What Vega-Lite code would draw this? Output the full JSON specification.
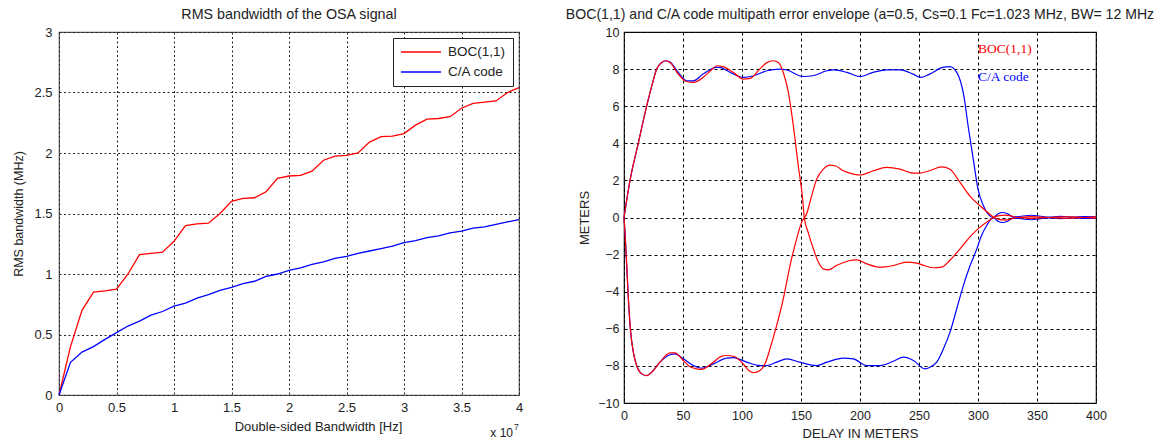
{
  "$schema": "https://vega.github.io/schema/vega-lite/v6.json",
  "background": "white",
  "padding": {"left": 12, "top": 7, "right": 0, "bottom": 0},
  "bounds": "flush",
  "spacing": 105,
  "config": {
    "font": "Liberation Sans",
    "title": {"fontWeight": "normal", "color": "#222", "anchor": "middle", "frame": "group"},
    "axis": {"ticks": false, "domain": false, "labelFlush": false, "labelOverlap": false, "titleFontWeight": "normal", "labelColor": "#222", "titleColor": "#222", "tickCount": 30}
  },
  "resolve": {"scale": {"color": "independent"}, "legend": {"color": "independent"}},
  "hconcat": [
    {
      "width": 460,
      "height": 363,
      "view": {"stroke": "#555", "strokeWidth": 1.2},
      "title": {"text": "RMS bandwidth of the OSA signal", "fontSize": 14.3, "offset": 4},
      "data": {"values": [
        {"bw": 0, "rms": 0, "signal": "BOC(1,1)"},
        {"bw": 1000000, "rms": 0.40, "signal": "BOC(1,1)"},
        {"bw": 2000000, "rms": 0.70, "signal": "BOC(1,1)"},
        {"bw": 3000000, "rms": 0.85, "signal": "BOC(1,1)"},
        {"bw": 4000000, "rms": 0.86, "signal": "BOC(1,1)"},
        {"bw": 5000000, "rms": 0.875, "signal": "BOC(1,1)"},
        {"bw": 6000000, "rms": 1.0, "signal": "BOC(1,1)"},
        {"bw": 7000000, "rms": 1.16, "signal": "BOC(1,1)"},
        {"bw": 8000000, "rms": 1.17, "signal": "BOC(1,1)"},
        {"bw": 9000000, "rms": 1.18, "signal": "BOC(1,1)"},
        {"bw": 10000000, "rms": 1.27, "signal": "BOC(1,1)"},
        {"bw": 11000000, "rms": 1.40, "signal": "BOC(1,1)"},
        {"bw": 12000000, "rms": 1.415, "signal": "BOC(1,1)"},
        {"bw": 13000000, "rms": 1.42, "signal": "BOC(1,1)"},
        {"bw": 14000000, "rms": 1.50, "signal": "BOC(1,1)"},
        {"bw": 15000000, "rms": 1.60, "signal": "BOC(1,1)"},
        {"bw": 16000000, "rms": 1.625, "signal": "BOC(1,1)"},
        {"bw": 17000000, "rms": 1.63, "signal": "BOC(1,1)"},
        {"bw": 18000000, "rms": 1.68, "signal": "BOC(1,1)"},
        {"bw": 19000000, "rms": 1.79, "signal": "BOC(1,1)"},
        {"bw": 20000000, "rms": 1.81, "signal": "BOC(1,1)"},
        {"bw": 21000000, "rms": 1.815, "signal": "BOC(1,1)"},
        {"bw": 22000000, "rms": 1.85, "signal": "BOC(1,1)"},
        {"bw": 23000000, "rms": 1.94, "signal": "BOC(1,1)"},
        {"bw": 24000000, "rms": 1.975, "signal": "BOC(1,1)"},
        {"bw": 25000000, "rms": 1.98, "signal": "BOC(1,1)"},
        {"bw": 26000000, "rms": 2.00, "signal": "BOC(1,1)"},
        {"bw": 27000000, "rms": 2.09, "signal": "BOC(1,1)"},
        {"bw": 28000000, "rms": 2.135, "signal": "BOC(1,1)"},
        {"bw": 29000000, "rms": 2.14, "signal": "BOC(1,1)"},
        {"bw": 30000000, "rms": 2.16, "signal": "BOC(1,1)"},
        {"bw": 31000000, "rms": 2.23, "signal": "BOC(1,1)"},
        {"bw": 32000000, "rms": 2.28, "signal": "BOC(1,1)"},
        {"bw": 33000000, "rms": 2.285, "signal": "BOC(1,1)"},
        {"bw": 34000000, "rms": 2.30, "signal": "BOC(1,1)"},
        {"bw": 35000000, "rms": 2.37, "signal": "BOC(1,1)"},
        {"bw": 36000000, "rms": 2.41, "signal": "BOC(1,1)"},
        {"bw": 37000000, "rms": 2.42, "signal": "BOC(1,1)"},
        {"bw": 38000000, "rms": 2.43, "signal": "BOC(1,1)"},
        {"bw": 39000000, "rms": 2.50, "signal": "BOC(1,1)"},
        {"bw": 40000000, "rms": 2.54, "signal": "BOC(1,1)"},
        {"bw": 0, "rms": 0, "signal": "C/A code"},
        {"bw": 1000000, "rms": 0.27, "signal": "C/A code"},
        {"bw": 2000000, "rms": 0.355, "signal": "C/A code"},
        {"bw": 3000000, "rms": 0.40, "signal": "C/A code"},
        {"bw": 4000000, "rms": 0.46, "signal": "C/A code"},
        {"bw": 5000000, "rms": 0.515, "signal": "C/A code"},
        {"bw": 6000000, "rms": 0.57, "signal": "C/A code"},
        {"bw": 7000000, "rms": 0.61, "signal": "C/A code"},
        {"bw": 8000000, "rms": 0.66, "signal": "C/A code"},
        {"bw": 9000000, "rms": 0.69, "signal": "C/A code"},
        {"bw": 10000000, "rms": 0.735, "signal": "C/A code"},
        {"bw": 11000000, "rms": 0.76, "signal": "C/A code"},
        {"bw": 12000000, "rms": 0.80, "signal": "C/A code"},
        {"bw": 13000000, "rms": 0.83, "signal": "C/A code"},
        {"bw": 14000000, "rms": 0.865, "signal": "C/A code"},
        {"bw": 15000000, "rms": 0.89, "signal": "C/A code"},
        {"bw": 16000000, "rms": 0.92, "signal": "C/A code"},
        {"bw": 17000000, "rms": 0.94, "signal": "C/A code"},
        {"bw": 18000000, "rms": 0.98, "signal": "C/A code"},
        {"bw": 19000000, "rms": 1.00, "signal": "C/A code"},
        {"bw": 20000000, "rms": 1.03, "signal": "C/A code"},
        {"bw": 21000000, "rms": 1.05, "signal": "C/A code"},
        {"bw": 22000000, "rms": 1.08, "signal": "C/A code"},
        {"bw": 23000000, "rms": 1.10, "signal": "C/A code"},
        {"bw": 24000000, "rms": 1.13, "signal": "C/A code"},
        {"bw": 25000000, "rms": 1.145, "signal": "C/A code"},
        {"bw": 26000000, "rms": 1.17, "signal": "C/A code"},
        {"bw": 27000000, "rms": 1.19, "signal": "C/A code"},
        {"bw": 28000000, "rms": 1.21, "signal": "C/A code"},
        {"bw": 29000000, "rms": 1.23, "signal": "C/A code"},
        {"bw": 30000000, "rms": 1.26, "signal": "C/A code"},
        {"bw": 31000000, "rms": 1.275, "signal": "C/A code"},
        {"bw": 32000000, "rms": 1.30, "signal": "C/A code"},
        {"bw": 33000000, "rms": 1.315, "signal": "C/A code"},
        {"bw": 34000000, "rms": 1.34, "signal": "C/A code"},
        {"bw": 35000000, "rms": 1.355, "signal": "C/A code"},
        {"bw": 36000000, "rms": 1.38, "signal": "C/A code"},
        {"bw": 37000000, "rms": 1.39, "signal": "C/A code"},
        {"bw": 38000000, "rms": 1.41, "signal": "C/A code"},
        {"bw": 39000000, "rms": 1.43, "signal": "C/A code"},
        {"bw": 40000000, "rms": 1.45, "signal": "C/A code"}
      ]},
      "layer": [
        {
          "mark": {"type": "line", "strokeWidth": 1.3},
          "encoding": {
            "x": {"field": "bw", "type": "quantitative", "title": "Double-sided Bandwidth [Hz]",
              "scale": {"domain": [0, 40000000], "nice": false, "zero": false},
              "axis": {"values": [0, 5000000, 10000000, 15000000, 20000000, 25000000, 30000000, 35000000, 40000000],
                "labelExpr": "datum.value / 10000000", "grid": true, "gridDash": [2, 2.5], "gridColor": "#222", "gridWidth": 1,
                "labelFontSize": 13, "labelPadding": 6, "titleFontSize": 13, "titlePadding": 6, "titleX": 259, "labelOverlap": false}},
            "y": {"field": "rms", "type": "quantitative", "title": "RMS bandwidth (MHz)",
              "scale": {"domain": [0, 3], "nice": false},
              "axis": {"values": [0, 0.5, 1, 1.5, 2, 2.5, 3], "format": "~g", "grid": true, "gridDash": [2, 2.5], "gridColor": "#222", "gridWidth": 1,
                "labelFontSize": 13, "labelPadding": 7, "titleFontSize": 12.5, "titlePadding": 8, "labelOverlap": false}},
            "color": {"field": "signal", "type": "nominal",
              "scale": {"domain": ["BOC(1,1)", "C/A code"], "range": ["#ff0000", "#0000ff"]},
              "legend": {"title": null, "orient": "top-right", "offset": 6,
                "symbolType": "M-3.33,0H3.33", "symbolSize": 144, "symbolOffset": 14, "symbolFillColor": "transparent",
                "symbolStrokeWidth": 1.5, "labelFontSize": 13.5, "labelColor": "#222", "padding": 7, "rowPadding": 6,
                "strokeColor": "#222", "fillColor": "white", "labelOffset": 20}}
          }
        },
        {
          "data": {"values": [{"anchor": 40000000}]},
          "mark": {"type": "text", "text": "x 10", "align": "right", "baseline": "middle", "dx": -6, "dy": 38, "fontSize": 12, "color": "#222"},
          "encoding": {"x": {"field": "anchor", "type": "quantitative"}, "y": {"datum": 0, "type": "quantitative"}}
        },
        {
          "data": {"values": [{"anchor": 40000000}]},
          "mark": {"type": "text", "text": "7", "align": "left", "baseline": "middle", "dx": -5, "dy": 32, "fontSize": 8.5, "color": "#222"},
          "encoding": {"x": {"field": "anchor", "type": "quantitative"}, "y": {"datum": 0, "type": "quantitative"}}
        }
      ]
    },
    {
      "width": 472,
      "height": 371,
      "view": {"stroke": "#111", "strokeWidth": 1.2},
      "title": {"text": "BOC(1,1) and C/A code multipath error envelope (a=0.5, Cs=0.1 Fc=1.023 MHz, BW= 12 MHz", "fontSize": 14.1, "offset": 4},
      "layer": [
        {
          "data": {"values": [
            {"delay": 0, "err": 0, "series": "C/A code", "branch": "upper"},
            {"delay": 5.1, "err": 2.0, "series": "C/A code", "branch": "upper"},
            {"delay": 12.1, "err": 4.0, "series": "C/A code", "branch": "upper"},
            {"delay": 19.2, "err": 6.0, "series": "C/A code", "branch": "upper"},
            {"delay": 24, "err": 7.2, "series": "C/A code", "branch": "upper"},
            {"delay": 27.7, "err": 8.0, "series": "C/A code", "branch": "upper"},
            {"delay": 31, "err": 8.3, "series": "C/A code", "branch": "upper"},
            {"delay": 35, "err": 8.45, "series": "C/A code", "branch": "upper"},
            {"delay": 39, "err": 8.38, "series": "C/A code", "branch": "upper"},
            {"delay": 46, "err": 7.82, "series": "C/A code", "branch": "upper"},
            {"delay": 53, "err": 7.37, "series": "C/A code", "branch": "upper"},
            {"delay": 58.8, "err": 7.37, "series": "C/A code", "branch": "upper"},
            {"delay": 67, "err": 7.73, "series": "C/A code", "branch": "upper"},
            {"delay": 78.5, "err": 8.09, "series": "C/A code", "branch": "upper"},
            {"delay": 81, "err": 8.09, "series": "C/A code", "branch": "upper"},
            {"delay": 90, "err": 7.82, "series": "C/A code", "branch": "upper"},
            {"delay": 101, "err": 7.55, "series": "C/A code", "branch": "upper"},
            {"delay": 110, "err": 7.64, "series": "C/A code", "branch": "upper"},
            {"delay": 121, "err": 7.91, "series": "C/A code", "branch": "upper"},
            {"delay": 132, "err": 8.0, "series": "C/A code", "branch": "upper"},
            {"delay": 138, "err": 7.95, "series": "C/A code", "branch": "upper"},
            {"delay": 152, "err": 7.6, "series": "C/A code", "branch": "upper"},
            {"delay": 160, "err": 7.64, "series": "C/A code", "branch": "upper"},
            {"delay": 172, "err": 7.91, "series": "C/A code", "branch": "upper"},
            {"delay": 178, "err": 7.96, "series": "C/A code", "branch": "upper"},
            {"delay": 189, "err": 7.82, "series": "C/A code", "branch": "upper"},
            {"delay": 200, "err": 7.6, "series": "C/A code", "branch": "upper"},
            {"delay": 211, "err": 7.82, "series": "C/A code", "branch": "upper"},
            {"delay": 223, "err": 7.96, "series": "C/A code", "branch": "upper"},
            {"delay": 234, "err": 7.96, "series": "C/A code", "branch": "upper"},
            {"delay": 245, "err": 7.73, "series": "C/A code", "branch": "upper"},
            {"delay": 251, "err": 7.55, "series": "C/A code", "branch": "upper"},
            {"delay": 259, "err": 7.73, "series": "C/A code", "branch": "upper"},
            {"delay": 270, "err": 8.09, "series": "C/A code", "branch": "upper"},
            {"delay": 276, "err": 8.13, "series": "C/A code", "branch": "upper"},
            {"delay": 282, "err": 7.82, "series": "C/A code", "branch": "upper"},
            {"delay": 288, "err": 6.56, "series": "C/A code", "branch": "upper"},
            {"delay": 292, "err": 4.77, "series": "C/A code", "branch": "upper"},
            {"delay": 296, "err": 3.15, "series": "C/A code", "branch": "upper"},
            {"delay": 300, "err": 1.53, "series": "C/A code", "branch": "upper"},
            {"delay": 304.6, "err": 0.63, "series": "C/A code", "branch": "upper"},
            {"delay": 310, "err": 0.09, "series": "C/A code", "branch": "upper"},
            {"delay": 313, "err": 0, "series": "C/A code", "branch": "upper"},
            {"delay": 317, "err": 0.2, "series": "C/A code", "branch": "upper"},
            {"delay": 321, "err": 0.27, "series": "C/A code", "branch": "upper"},
            {"delay": 325, "err": 0.2, "series": "C/A code", "branch": "upper"},
            {"delay": 330, "err": 0.02, "series": "C/A code", "branch": "upper"},
            {"delay": 338, "err": 0.08, "series": "C/A code", "branch": "upper"},
            {"delay": 345, "err": 0.12, "series": "C/A code", "branch": "upper"},
            {"delay": 352, "err": 0.08, "series": "C/A code", "branch": "upper"},
            {"delay": 360, "err": 0.02, "series": "C/A code", "branch": "upper"},
            {"delay": 370, "err": 0.06, "series": "C/A code", "branch": "upper"},
            {"delay": 380, "err": 0.02, "series": "C/A code", "branch": "upper"},
            {"delay": 390, "err": 0.05, "series": "C/A code", "branch": "upper"},
            {"delay": 400, "err": 0.04, "series": "C/A code", "branch": "upper"},

            {"delay": 0, "err": 0, "series": "C/A code", "branch": "lower"},
            {"delay": 0.85, "err": -0.79, "series": "C/A code", "branch": "lower"},
            {"delay": 2.3, "err": -2.59, "series": "C/A code", "branch": "lower"},
            {"delay": 3.7, "err": -4.38, "series": "C/A code", "branch": "lower"},
            {"delay": 5.65, "err": -6.18, "series": "C/A code", "branch": "lower"},
            {"delay": 7.9, "err": -7.26, "series": "C/A code", "branch": "lower"},
            {"delay": 10.7, "err": -7.98, "series": "C/A code", "branch": "lower"},
            {"delay": 15, "err": -8.43, "series": "C/A code", "branch": "lower"},
            {"delay": 19.2, "err": -8.52, "series": "C/A code", "branch": "lower"},
            {"delay": 23.4, "err": -8.34, "series": "C/A code", "branch": "lower"},
            {"delay": 30.5, "err": -7.8, "series": "C/A code", "branch": "lower"},
            {"delay": 39, "err": -7.4, "series": "C/A code", "branch": "lower"},
            {"delay": 43.2, "err": -7.35, "series": "C/A code", "branch": "lower"},
            {"delay": 50.3, "err": -7.62, "series": "C/A code", "branch": "lower"},
            {"delay": 58.8, "err": -7.98, "series": "C/A code", "branch": "lower"},
            {"delay": 65.8, "err": -8.12, "series": "C/A code", "branch": "lower"},
            {"delay": 75.7, "err": -7.89, "series": "C/A code", "branch": "lower"},
            {"delay": 87, "err": -7.58, "series": "C/A code", "branch": "lower"},
            {"delay": 92.7, "err": -7.55, "series": "C/A code", "branch": "lower"},
            {"delay": 104, "err": -7.8, "series": "C/A code", "branch": "lower"},
            {"delay": 115.3, "err": -7.98, "series": "C/A code", "branch": "lower"},
            {"delay": 121, "err": -7.98, "series": "C/A code", "branch": "lower"},
            {"delay": 129.4, "err": -7.8, "series": "C/A code", "branch": "lower"},
            {"delay": 138, "err": -7.62, "series": "C/A code", "branch": "lower"},
            {"delay": 149, "err": -7.8, "series": "C/A code", "branch": "lower"},
            {"delay": 163.3, "err": -7.98, "series": "C/A code", "branch": "lower"},
            {"delay": 172, "err": -7.8, "series": "C/A code", "branch": "lower"},
            {"delay": 186, "err": -7.58, "series": "C/A code", "branch": "lower"},
            {"delay": 194.4, "err": -7.62, "series": "C/A code", "branch": "lower"},
            {"delay": 205.7, "err": -7.98, "series": "C/A code", "branch": "lower"},
            {"delay": 217, "err": -7.98, "series": "C/A code", "branch": "lower"},
            {"delay": 228.3, "err": -7.75, "series": "C/A code", "branch": "lower"},
            {"delay": 236.8, "err": -7.53, "series": "C/A code", "branch": "lower"},
            {"delay": 245.3, "err": -7.71, "series": "C/A code", "branch": "lower"},
            {"delay": 255, "err": -8.16, "series": "C/A code", "branch": "lower"},
            {"delay": 259.4, "err": -8.07, "series": "C/A code", "branch": "lower"},
            {"delay": 265, "err": -7.8, "series": "C/A code", "branch": "lower"},
            {"delay": 270.7, "err": -7.08, "series": "C/A code", "branch": "lower"},
            {"delay": 276.3, "err": -6.18, "series": "C/A code", "branch": "lower"},
            {"delay": 282, "err": -4.92, "series": "C/A code", "branch": "lower"},
            {"delay": 287.6, "err": -3.67, "series": "C/A code", "branch": "lower"},
            {"delay": 293.3, "err": -2.59, "series": "C/A code", "branch": "lower"},
            {"delay": 299, "err": -1.69, "series": "C/A code", "branch": "lower"},
            {"delay": 303, "err": -0.97, "series": "C/A code", "branch": "lower"},
            {"delay": 307.4, "err": -0.43, "series": "C/A code", "branch": "lower"},
            {"delay": 313, "err": 0, "series": "C/A code", "branch": "lower"},
            {"delay": 317, "err": -0.2, "series": "C/A code", "branch": "lower"},
            {"delay": 321, "err": -0.27, "series": "C/A code", "branch": "lower"},
            {"delay": 325, "err": -0.2, "series": "C/A code", "branch": "lower"},
            {"delay": 330, "err": -0.02, "series": "C/A code", "branch": "lower"},
            {"delay": 338, "err": -0.08, "series": "C/A code", "branch": "lower"},
            {"delay": 345, "err": -0.12, "series": "C/A code", "branch": "lower"},
            {"delay": 352, "err": -0.08, "series": "C/A code", "branch": "lower"},
            {"delay": 360, "err": -0.02, "series": "C/A code", "branch": "lower"},
            {"delay": 370, "err": -0.06, "series": "C/A code", "branch": "lower"},
            {"delay": 380, "err": -0.02, "series": "C/A code", "branch": "lower"},
            {"delay": 390, "err": -0.05, "series": "C/A code", "branch": "lower"},
            {"delay": 400, "err": -0.04, "series": "C/A code", "branch": "lower"},

            {"delay": 0, "err": 0, "series": "BOC(1,1)", "branch": "upper"},
            {"delay": 5.1, "err": 2.0, "series": "BOC(1,1)", "branch": "upper"},
            {"delay": 12.1, "err": 4.0, "series": "BOC(1,1)", "branch": "upper"},
            {"delay": 19.2, "err": 6.0, "series": "BOC(1,1)", "branch": "upper"},
            {"delay": 24, "err": 7.2, "series": "BOC(1,1)", "branch": "upper"},
            {"delay": 27.7, "err": 8.0, "series": "BOC(1,1)", "branch": "upper"},
            {"delay": 31, "err": 8.3, "series": "BOC(1,1)", "branch": "upper"},
            {"delay": 35, "err": 8.45, "series": "BOC(1,1)", "branch": "upper"},
            {"delay": 39, "err": 8.36, "series": "BOC(1,1)", "branch": "upper"},
            {"delay": 46, "err": 7.73, "series": "BOC(1,1)", "branch": "upper"},
            {"delay": 53, "err": 7.33, "series": "BOC(1,1)", "branch": "upper"},
            {"delay": 58.8, "err": 7.28, "series": "BOC(1,1)", "branch": "upper"},
            {"delay": 67, "err": 7.55, "series": "BOC(1,1)", "branch": "upper"},
            {"delay": 74, "err": 7.95, "series": "BOC(1,1)", "branch": "upper"},
            {"delay": 78.5, "err": 8.18, "series": "BOC(1,1)", "branch": "upper"},
            {"delay": 84, "err": 8.13, "series": "BOC(1,1)", "branch": "upper"},
            {"delay": 92.7, "err": 7.82, "series": "BOC(1,1)", "branch": "upper"},
            {"delay": 101, "err": 7.46, "series": "BOC(1,1)", "branch": "upper"},
            {"delay": 107, "err": 7.5, "series": "BOC(1,1)", "branch": "upper"},
            {"delay": 115, "err": 8.0, "series": "BOC(1,1)", "branch": "upper"},
            {"delay": 121, "err": 8.35, "series": "BOC(1,1)", "branch": "upper"},
            {"delay": 126.6, "err": 8.45, "series": "BOC(1,1)", "branch": "upper"},
            {"delay": 130.8, "err": 8.36, "series": "BOC(1,1)", "branch": "upper"},
            {"delay": 135, "err": 7.82, "series": "BOC(1,1)", "branch": "upper"},
            {"delay": 139.3, "err": 6.74, "series": "BOC(1,1)", "branch": "upper"},
            {"delay": 143.5, "err": 4.95, "series": "BOC(1,1)", "branch": "upper"},
            {"delay": 147.7, "err": 2.79, "series": "BOC(1,1)", "branch": "upper"},
            {"delay": 151.4, "err": 1.0, "series": "BOC(1,1)", "branch": "upper"},
            {"delay": 152.8, "err": 0, "series": "BOC(1,1)", "branch": "upper"},
            {"delay": 156, "err": -0.79, "series": "BOC(1,1)", "branch": "upper"},
            {"delay": 160.5, "err": -1.69, "series": "BOC(1,1)", "branch": "upper"},
            {"delay": 164.7, "err": -2.4, "series": "BOC(1,1)", "branch": "upper"},
            {"delay": 169, "err": -2.77, "series": "BOC(1,1)", "branch": "upper"},
            {"delay": 173, "err": -2.82, "series": "BOC(1,1)", "branch": "upper"},
            {"delay": 180, "err": -2.59, "series": "BOC(1,1)", "branch": "upper"},
            {"delay": 191.5, "err": -2.32, "series": "BOC(1,1)", "branch": "upper"},
            {"delay": 197, "err": -2.28, "series": "BOC(1,1)", "branch": "upper"},
            {"delay": 205.7, "err": -2.5, "series": "BOC(1,1)", "branch": "upper"},
            {"delay": 217, "err": -2.68, "series": "BOC(1,1)", "branch": "upper"},
            {"delay": 228, "err": -2.59, "series": "BOC(1,1)", "branch": "upper"},
            {"delay": 239.6, "err": -2.41, "series": "BOC(1,1)", "branch": "upper"},
            {"delay": 248, "err": -2.46, "series": "BOC(1,1)", "branch": "upper"},
            {"delay": 255, "err": -2.6, "series": "BOC(1,1)", "branch": "upper"},
            {"delay": 262, "err": -2.71, "series": "BOC(1,1)", "branch": "upper"},
            {"delay": 269, "err": -2.68, "series": "BOC(1,1)", "branch": "upper"},
            {"delay": 276, "err": -2.32, "series": "BOC(1,1)", "branch": "upper"},
            {"delay": 284.8, "err": -1.69, "series": "BOC(1,1)", "branch": "upper"},
            {"delay": 293, "err": -1.06, "series": "BOC(1,1)", "branch": "upper"},
            {"delay": 301.7, "err": -0.52, "series": "BOC(1,1)", "branch": "upper"},
            {"delay": 307.4, "err": -0.25, "series": "BOC(1,1)", "branch": "upper"},
            {"delay": 313, "err": 0, "series": "BOC(1,1)", "branch": "upper"},
            {"delay": 318, "err": 0.1, "series": "BOC(1,1)", "branch": "upper"},
            {"delay": 322, "err": 0.13, "series": "BOC(1,1)", "branch": "upper"},
            {"delay": 327, "err": 0.1, "series": "BOC(1,1)", "branch": "upper"},
            {"delay": 333, "err": 0, "series": "BOC(1,1)", "branch": "upper"},
            {"delay": 345, "err": 0.05, "series": "BOC(1,1)", "branch": "upper"},
            {"delay": 360, "err": 0, "series": "BOC(1,1)", "branch": "upper"},
            {"delay": 375, "err": 0.04, "series": "BOC(1,1)", "branch": "upper"},
            {"delay": 390, "err": 0, "series": "BOC(1,1)", "branch": "upper"},
            {"delay": 400, "err": 0.03, "series": "BOC(1,1)", "branch": "upper"},

            {"delay": 0, "err": 0, "series": "BOC(1,1)", "branch": "lower"},
            {"delay": 0.85, "err": -0.79, "series": "BOC(1,1)", "branch": "lower"},
            {"delay": 2.3, "err": -2.59, "series": "BOC(1,1)", "branch": "lower"},
            {"delay": 3.7, "err": -4.38, "series": "BOC(1,1)", "branch": "lower"},
            {"delay": 5.65, "err": -6.18, "series": "BOC(1,1)", "branch": "lower"},
            {"delay": 7.9, "err": -7.26, "series": "BOC(1,1)", "branch": "lower"},
            {"delay": 10.7, "err": -7.98, "series": "BOC(1,1)", "branch": "lower"},
            {"delay": 15, "err": -8.43, "series": "BOC(1,1)", "branch": "lower"},
            {"delay": 19.2, "err": -8.52, "series": "BOC(1,1)", "branch": "lower"},
            {"delay": 23.4, "err": -8.34, "series": "BOC(1,1)", "branch": "lower"},
            {"delay": 30.5, "err": -7.8, "series": "BOC(1,1)", "branch": "lower"},
            {"delay": 39, "err": -7.3, "series": "BOC(1,1)", "branch": "lower"},
            {"delay": 43.2, "err": -7.3, "series": "BOC(1,1)", "branch": "lower"},
            {"delay": 50.3, "err": -7.71, "series": "BOC(1,1)", "branch": "lower"},
            {"delay": 56, "err": -8.05, "series": "BOC(1,1)", "branch": "lower"},
            {"delay": 61.6, "err": -8.16, "series": "BOC(1,1)", "branch": "lower"},
            {"delay": 65.8, "err": -8.19, "series": "BOC(1,1)", "branch": "lower"},
            {"delay": 75.7, "err": -7.8, "series": "BOC(1,1)", "branch": "lower"},
            {"delay": 82, "err": -7.5, "series": "BOC(1,1)", "branch": "lower"},
            {"delay": 87, "err": -7.44, "series": "BOC(1,1)", "branch": "lower"},
            {"delay": 92.7, "err": -7.48, "series": "BOC(1,1)", "branch": "lower"},
            {"delay": 101, "err": -7.89, "series": "BOC(1,1)", "branch": "lower"},
            {"delay": 105, "err": -8.2, "series": "BOC(1,1)", "branch": "lower"},
            {"delay": 109.6, "err": -8.37, "series": "BOC(1,1)", "branch": "lower"},
            {"delay": 115.3, "err": -8.25, "series": "BOC(1,1)", "branch": "lower"},
            {"delay": 119.5, "err": -7.89, "series": "BOC(1,1)", "branch": "lower"},
            {"delay": 123.7, "err": -7.08, "series": "BOC(1,1)", "branch": "lower"},
            {"delay": 129.4, "err": -5.82, "series": "BOC(1,1)", "branch": "lower"},
            {"delay": 135, "err": -4.38, "series": "BOC(1,1)", "branch": "lower"},
            {"delay": 140.7, "err": -2.59, "series": "BOC(1,1)", "branch": "lower"},
            {"delay": 146.3, "err": -1.15, "series": "BOC(1,1)", "branch": "lower"},
            {"delay": 150.6, "err": -0.25, "series": "BOC(1,1)", "branch": "lower"},
            {"delay": 154.8, "err": 0.2, "series": "BOC(1,1)", "branch": "lower"},
            {"delay": 159, "err": 1.17, "series": "BOC(1,1)", "branch": "lower"},
            {"delay": 163.3, "err": 2.07, "series": "BOC(1,1)", "branch": "lower"},
            {"delay": 169, "err": 2.61, "series": "BOC(1,1)", "branch": "lower"},
            {"delay": 174.6, "err": 2.82, "series": "BOC(1,1)", "branch": "lower"},
            {"delay": 178.8, "err": 2.79, "series": "BOC(1,1)", "branch": "lower"},
            {"delay": 185.9, "err": 2.52, "series": "BOC(1,1)", "branch": "lower"},
            {"delay": 194.4, "err": 2.34, "series": "BOC(1,1)", "branch": "lower"},
            {"delay": 200, "err": 2.29, "series": "BOC(1,1)", "branch": "lower"},
            {"delay": 211.3, "err": 2.52, "series": "BOC(1,1)", "branch": "lower"},
            {"delay": 222.6, "err": 2.7, "series": "BOC(1,1)", "branch": "lower"},
            {"delay": 233.9, "err": 2.61, "series": "BOC(1,1)", "branch": "lower"},
            {"delay": 245.2, "err": 2.39, "series": "BOC(1,1)", "branch": "lower"},
            {"delay": 250, "err": 2.39, "series": "BOC(1,1)", "branch": "lower"},
            {"delay": 259, "err": 2.52, "series": "BOC(1,1)", "branch": "lower"},
            {"delay": 269, "err": 2.73, "series": "BOC(1,1)", "branch": "lower"},
            {"delay": 276, "err": 2.61, "series": "BOC(1,1)", "branch": "lower"},
            {"delay": 284.8, "err": 1.89, "series": "BOC(1,1)", "branch": "lower"},
            {"delay": 293, "err": 1.17, "series": "BOC(1,1)", "branch": "lower"},
            {"delay": 301.7, "err": 0.63, "series": "BOC(1,1)", "branch": "lower"},
            {"delay": 310, "err": 0.18, "series": "BOC(1,1)", "branch": "lower"},
            {"delay": 313.6, "err": 0, "series": "BOC(1,1)", "branch": "lower"},
            {"delay": 318, "err": -0.1, "series": "BOC(1,1)", "branch": "lower"},
            {"delay": 322, "err": -0.13, "series": "BOC(1,1)", "branch": "lower"},
            {"delay": 327, "err": -0.1, "series": "BOC(1,1)", "branch": "lower"},
            {"delay": 333, "err": 0, "series": "BOC(1,1)", "branch": "lower"},
            {"delay": 345, "err": -0.05, "series": "BOC(1,1)", "branch": "lower"},
            {"delay": 360, "err": 0, "series": "BOC(1,1)", "branch": "lower"},
            {"delay": 375, "err": -0.04, "series": "BOC(1,1)", "branch": "lower"},
            {"delay": 390, "err": 0, "series": "BOC(1,1)", "branch": "lower"},
            {"delay": 400, "err": -0.03, "series": "BOC(1,1)", "branch": "lower"}
          ]},
          "mark": {"type": "line", "strokeWidth": 1.2, "interpolate": "monotone"},
          "encoding": {
            "x": {"field": "delay", "type": "quantitative", "title": "DELAY IN METERS",
              "scale": {"domain": [0, 400], "nice": false},
              "axis": {"values": [0, 50, 100, 150, 200, 250, 300, 350, 400], "format": "d", "grid": true, "gridDash": [3, 3], "gridColor": "#000", "gridWidth": 1,
                "labelFontSize": 12.5, "labelPadding": 6, "titleFontSize": 13, "titlePadding": 6, "tickCount": 30, "labelOverlap": false}},
            "y": {"field": "err", "type": "quantitative", "title": "METERS",
              "scale": {"domain": [-10, 10], "nice": false},
              "axis": {"values": [-10, -8, -6, -4, -2, 0, 2, 4, 6, 8, 10], "format": "d", "grid": true, "gridDash": [3, 3], "gridColor": "#000", "gridWidth": 1,
                "labelFontSize": 12.5, "labelPadding": 5, "titleFontSize": 13, "titlePadding": 6, "tickCount": 30, "labelOverlap": false}},
            "color": {"field": "series", "type": "nominal",
              "scale": {"domain": ["BOC(1,1)", "C/A code"], "range": ["#ff0000", "#0000ff"]}, "legend": null},
            "detail": {"field": "branch"}
          }
        },
        {
          "data": {"values": [
            {"delay": 300, "err": 9.1, "series": "BOC(1,1)", "label": "BOC(1,1)"},
            {"delay": 300, "err": 7.6, "series": "C/A code", "label": "C/A code"}
          ]},
          "mark": {"type": "text", "align": "left", "baseline": "middle", "font": "Liberation Serif", "fontSize": 13.5},
          "encoding": {
            "x": {"field": "delay", "type": "quantitative"},
            "y": {"field": "err", "type": "quantitative"},
            "text": {"field": "label"},
            "color": {"field": "series", "type": "nominal",
              "scale": {"domain": ["BOC(1,1)", "C/A code"], "range": ["#ff0000", "#0000ff"]}, "legend": null}
          }
        }
      ]
    }
  ]
}
